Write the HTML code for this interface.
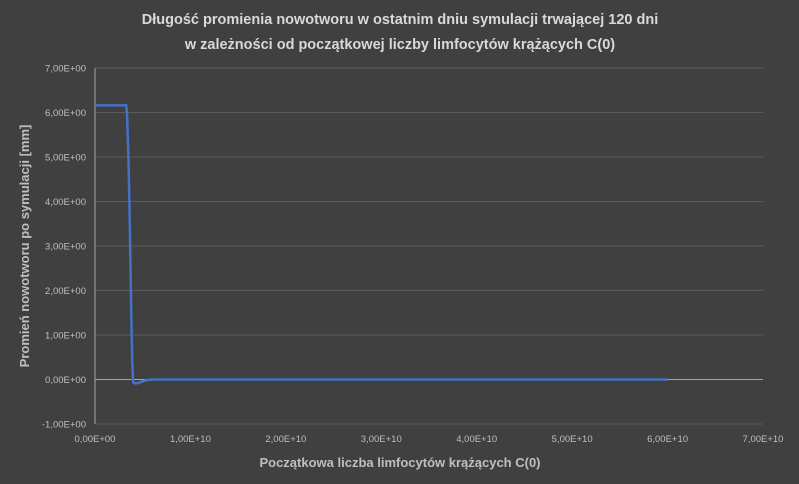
<!DOCTYPE html>
<html><head><meta charset="utf-8"><style>
body{margin:0;background:#404040;}
svg{display:block;font-family:"Liberation Sans",sans-serif;}
</style></head><body>
<svg id="c" width="799" height="484">
<rect width="799" height="484" fill="#404040"/>
<text x="400" y="24" text-anchor="middle" fill="#d9d9d9" font-size="14.5" font-weight="bold">Długość promienia nowotworu w ostatnim dniu symulacji trwającej 120 dni</text>
<text x="400" y="49" text-anchor="middle" fill="#d9d9d9" font-size="14.5" font-weight="bold">w zależności od początkowej liczby limfocytów krążących C(0)</text>
<text x="400" y="467" text-anchor="middle" fill="#bfbfbf" font-size="13" font-weight="bold">Początkowa liczba limfocytów krążących C(0)</text>
<text transform="translate(29,246) rotate(-90)" text-anchor="middle" fill="#bfbfbf" font-size="13" font-weight="bold">Promień nowotworu po symulacji [mm]</text>
<g id="grid"></g><g id="ticks"></g><g id="series"></g>
</svg>
<script>
const xTicks=[0,1e10,2e10,3e10,4e10,5e10,6e10,7e10];
const xTickLabels=["0,00E+00","1,00E+10","2,00E+10","3,00E+10","4,00E+10","5,00E+10","6,00E+10","7,00E+10"];
const yTicks=[-1,0,1,2,3,4,5,6,7];
const yTickLabels=["-1,00E+00","0,00E+00","1,00E+00","2,00E+00","3,00E+00","4,00E+00","5,00E+00","6,00E+00","7,00E+00"];
const xs=[0,1e9,2e9,3e9,3.25e9,3.35e9,3.5e9,3.6e9,3.7e9,3.8e9,3.9e9,4.0e9,4.2e9,4.5e9,5e9,5.5e9,6e9,8e9,2e10,4e10,6e10];
const ys=[6.16,6.16,6.16,6.16,6.17,6.0,5.0,4.0,2.8,1.5,0.4,-0.06,-0.09,-0.08,-0.04,-0.01,0,0,0,0,0];
const X=v=>95+v/7e10*668, Y=v=>379.5-v*44.5;
const NS="http://www.w3.org/2000/svg";
function mk(t,a,p){const e=document.createElementNS(NS,t);for(const k in a)e.setAttribute(k,a[k]);p.appendChild(e);return e;}
const g=document.getElementById('grid'),tk=document.getElementById('ticks'),s=document.getElementById('series');
yTicks.forEach((v,i)=>{
 const l=mk('line',{x1:95,x2:763,y1:Y(v),y2:Y(v),stroke:v===0?'#a6a6a6':'#5a5a5a','stroke-width':1},g);
 
 
 const t=mk('text',{x:86,y:Y(v)+3.5,'text-anchor':'end',fill:'#bfbfbf','font-size':9.5},tk);
 t.textContent=yTickLabels[i];
 
 
});
const ax=mk('line',{x1:95,x2:95,y1:Y(7),y2:Y(-1),stroke:'#a6a6a6','stroke-width':1},g);


xTicks.forEach((v,i)=>{
 const t=mk('text',{x:X(v),y:442,'text-anchor':'middle',fill:'#bfbfbf','font-size':9.5},tk);
 t.textContent=xTickLabels[i];
 
 
});
const p=mk('polyline',{points:xs.map((x,i)=>X(x)+','+Y(ys[i])).join(' '),fill:'none',stroke:'#4472c4','stroke-width':2.5,'stroke-linejoin':'round'},s);


</script>
</body></html>
